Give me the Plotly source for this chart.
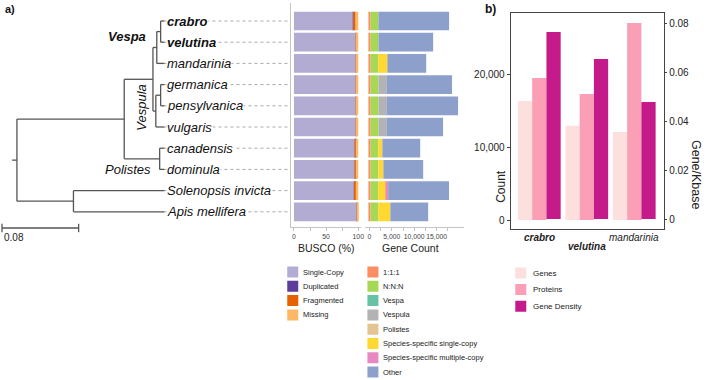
import plotly.graph_objects as go

# ---------------- data ----------------
species = ["crabro", "velutina", "mandarinia", "germanica", "pensylvanica",
           "vulgaris", "canadensis", "dominula", "Solenopsis invicta", "Apis mellifera"]
highlight = ["crabro", "velutina"]

# phylogeny: (label, branch length, children)
tree = ("", 0.005, [
    ("", 0.112, [
        ("", 0.030, [
            ("Vespa", 0.004, [
                ("", 0.004, [("crabro", 0.004, []), ("velutina", 0.004, [])]),
                ("mandarinia", 0.008, []),
            ]),
            ("Vespula", 0.003, [
                ("", 0.005, [("germanica", 0.004, []), ("pensylvanica", 0.004, [])]),
                ("vulgaris", 0.009, []),
            ]),
        ]),
        ("Polistes", 0.037, [("canadensis", 0.005, []), ("dominula", 0.005, [])]),
    ]),
    ("", 0.059, [("Solenopsis invicta", 0.095, []), ("Apis mellifera", 0.095, [])]),
])
scale_bar = 0.08

# BUSCO (%)
busco_categories = ["Single-Copy", "Duplicated", "Fragmented", "Missing"]
busco_single = [92.0, 96.5, 96.5, 96.5, 96.5, 96.5, 95.8, 95.5, 93.2, 98.3]
busco_duplicated = [0.3, 0.2, 0.2, 0.2, 0.2, 0.2, 0.2, 0.2, 0.3, 0.2]
busco_fragmented = [3.7, 0.8, 0.6, 0.6, 0.6, 0.6, 1.2, 1.5, 4.0, 0.3]
busco_missing = [4.0, 2.5, 2.7, 2.7, 2.7, 2.7, 2.8, 2.8, 2.5, 1.2]

# Gene count (orthology classes)
gc_categories = ["1:1:1", "N:N:N", "Vespa", "Vespula", "Polistes",
                 "Species-specific single-copy", "Species-specific multiple-copy", "Other"]
gc_one_to_one = [250, 250, 250, 250, 250, 250, 250, 250, 250, 250]
gc_n_n_n = [1750, 1750, 1750, 1750, 1750, 1750, 1750, 1750, 1750, 1750]
gc_vespa = [0, 0, 0, 0, 0, 0, 0, 0, 0, 0]
gc_vespula = [0, 0, 0, 1780, 1780, 1780, 0, 0, 0, 0]
gc_polistes = [0, 0, 0, 0, 0, 0, 0, 0, 0, 0]
gc_ss_single = [0, 0, 2000, 0, 0, 0, 890, 1110, 1780, 2670]
gc_ss_multi = [0, 0, 0, 0, 0, 0, 0, 0, 400, 0]
gc_other = [15780, 12220, 8670, 14660, 16000, 12660, 8440, 8890, 13580, 8440]

# Panel b
b_species = ["crabro", "velutina", "mandarinia"]
b_genes = [16300, 12900, 12050]
b_proteins = [19450, 17260, 26990]
b_density = [0.0763, 0.0653, 0.0478]
count_ticks = [0, 10000, 20000]
density_ticks = [0, 0.02, 0.04, 0.06, 0.08]
density_ticktext = ["0", "0.02", "0.04", "0.06", "0.08"]

# ---------------- styles ----------------
FONT = "Liberation Sans, Arial, sans-serif"
W, H = 708, 380
busco_colors = ["#b2abd2", "#5e3c99", "#e66101", "#fdb863"]
gc_colors = ["#fc8d62", "#a6d854", "#66c2a5", "#b3b3b3", "#e5c494", "#ffd92f", "#e78ac3", "#8da0cb"]
b_colors = ["#fde0dd", "#fa9fb5", "#c51b8a"]
AXC = "#c4c4c4"


def fx(p):
    return p / W


def fy(p):
    return 1 - p / H


# ---------------- tree layout ----------------
seg_x, seg_y = [], []
clade_nodes = {}
tip_pos = {}


def place(node, parent_x):
    name, bl, children = node
    x = parent_x + bl
    if children:
        ys = [place(c, x) for c in children]
        y = (min(ys) + max(ys)) / 2
        seg_x.extend([x, x, None])
        seg_y.extend([min(ys), max(ys), None])
        if name:
            clade_nodes[name] = (x, y)
    else:
        y = species.index(name)
        tip_pos[name] = (x, y)
    seg_x.extend([parent_x, x, None])
    seg_y.extend([y, y, None])
    return y


place(tree, -tree[1])

# tree axis scale: root at px 17, 962 px per unit
TREE_PX0, TREE_PPU = 17, 962
tree_xrange = [(0 - TREE_PX0) / TREE_PPU, (292 - TREE_PX0) / TREE_PPU]
leader_end = (290 - TREE_PX0) / TREE_PPU
ROW0, ROWH = 21, 21.2
tree_yrange = [(H - ROW0) / ROWH, (0 - ROW0) / ROWH]

fig = go.Figure()

# leader lines
lx, ly = [], []
for s in species:
    x, y = tip_pos[s]
    lx.extend([x, leader_end, None])
    ly.extend([y, y, None])
fig.add_trace(go.Scatter(x=lx, y=ly, mode="lines", line=dict(color="#a0a0a0", width=0.9, dash="dot"),
                         hoverinfo="skip", showlegend=False, xaxis="x", yaxis="y"))
# tree branches
fig.add_trace(go.Scatter(x=seg_x, y=seg_y, mode="lines", line=dict(color="#555555", width=1.3),
                         hoverinfo="skip", showlegend=False, xaxis="x", yaxis="y"))
# scale bar
sb_x0 = (2 - TREE_PX0) / TREE_PPU
sb_y = (228 - ROW0) / ROWH
fig.add_trace(go.Scatter(x=[sb_x0, sb_x0 + scale_bar], y=[sb_y, sb_y], mode="lines+markers",
                         line=dict(color="#555555", width=1.3),
                         marker=dict(symbol="line-ns", size=6, line=dict(color="#555555", width=1.3)),
                         hoverinfo="skip", showlegend=False, xaxis="x", yaxis="y"))

# BUSCO stacked bars
busco_series = [busco_single, busco_duplicated, busco_fragmented, busco_missing]
base = [0.0] * len(species)
for name, vals, col in zip(busco_categories, busco_series, busco_colors):
    fig.add_trace(go.Bar(y=species, x=vals, base=list(base), orientation="h", name=name,
                         marker=dict(color=col, line=dict(width=0)), width=0.88, offset=-0.44,
                         alignmentgroup="busco", offsetgroup="busco",
                         showlegend=False, xaxis="x2", yaxis="y2"))
    base = [b + v for b, v in zip(base, vals)]

# Gene count stacked bars
gc_series = [gc_one_to_one, gc_n_n_n, gc_vespa, gc_vespula, gc_polistes,
             gc_ss_single, gc_ss_multi, gc_other]
base = [0.0] * len(species)
for name, vals, col in zip(gc_categories, gc_series, gc_colors):
    fig.add_trace(go.Bar(y=species, x=vals, base=list(base), orientation="h", name=name,
                         marker=dict(color=col, line=dict(width=0)), width=0.88, offset=-0.44,
                         alignmentgroup="gc", offsetgroup="gc",
                         showlegend=False, xaxis="x3", yaxis="y2"))
    base = [b + v for b, v in zip(base, vals)]

# Panel b bars
fig.add_trace(go.Bar(x=b_species, y=b_genes, name="Genes", marker=dict(color=b_colors[0], line=dict(width=0)),
                     offsetgroup="1", showlegend=False, xaxis="x4", yaxis="y4"))
fig.add_trace(go.Bar(x=b_species, y=b_proteins, name="Proteins", marker=dict(color=b_colors[1], line=dict(width=0)),
                     offsetgroup="2", showlegend=False, xaxis="x4", yaxis="y4"))
fig.add_trace(go.Bar(x=b_species, y=b_density, name="Gene Density", marker=dict(color=b_colors[2], line=dict(width=0)),
                     offsetgroup="3", showlegend=False, xaxis="x4", yaxis="y5"))

# custom legends (swatches)
LA_X0 = 280
la_col1_x, la_col2_x = 294 - LA_X0, 374.5 - LA_X0
la_y = list(range(len(busco_categories))) + list(range(len(gc_categories)))
la_x = [la_col1_x] * len(busco_categories) + [la_col2_x] * len(gc_categories)
fig.add_trace(go.Scatter(x=la_x, y=la_y, mode="markers",
                         marker=dict(symbol="square", size=11, color=busco_colors + gc_colors, line=dict(width=0)),
                         hoverinfo="skip", showlegend=False, xaxis="x5", yaxis="y6"))
LB_X0 = 510
b_names = ["Genes", "Proteins", "Gene Density"]
fig.add_trace(go.Scatter(x=[523 - LB_X0] * 3, y=list(range(3)), mode="markers",
                         marker=dict(symbol="square", size=11, color=b_colors, line=dict(width=0)),
                         hoverinfo="skip", showlegend=False, xaxis="x6", yaxis="y7"))

# ---------------- annotations ----------------
ann = []
for s in species:
    x, y = tip_pos[s]
    txt = f"<b><i>{s}</i></b>" if s in highlight else f"<i>{s}</i>"
    ann.append(dict(x=x, y=y, xref="x", yref="y", text=txt, showarrow=False, xanchor="left",
                    yanchor="middle", xshift=2, font=dict(size=13, color="#111", family=FONT),
                    bgcolor="white", borderpad=0))
vx, vy = clade_nodes["Vespa"]
ann.append(dict(x=vx, y=vy - 0.54, xref="x", yref="y", text="<b><i>Vespa</i></b>", showarrow=False,
                xanchor="right", yanchor="middle", xshift=-9, font=dict(size=13, color="#111", family=FONT)))
wx, wy = clade_nodes["Vespula"]
ann.append(dict(x=wx, y=wy - 0.2, xref="x", yref="y", text="<i>Vespula</i>", showarrow=False, textangle=-90,
                xanchor="center", yanchor="middle", xshift=-14, font=dict(size=13, color="#111", family=FONT)))
px_, py_ = clade_nodes["Polistes"]
ann.append(dict(x=px_, y=species.index("dominula"), xref="x", yref="y", text="<i>Polistes</i>", showarrow=False,
                xanchor="right", yanchor="middle", xshift=-7, font=dict(size=13, color="#111", family=FONT)))
ann.append(dict(x=sb_x0, y=(237 - ROW0) / ROWH, xref="x", yref="y", text=f"{scale_bar:.2f}", showarrow=False,
                xanchor="left", yanchor="middle", font=dict(size=10, color="#222", family=FONT)))

# panel labels / titles
ann.append(dict(x=fx(3), y=fy(9), xref="paper", yref="paper", text="<b>a)</b>", showarrow=False,
                xanchor="left", yanchor="middle", font=dict(size=11, color="#111", family=FONT)))
ann.append(dict(x=fx(485), y=fy(9), xref="paper", yref="paper", text="<b>b)</b>", showarrow=False,
                xanchor="left", yanchor="middle", font=dict(size=12, color="#111", family=FONT)))
ann.append(dict(x=fx(328), y=fy(248), xref="paper", yref="paper", text="BUSCO (%)", showarrow=False,
                xanchor="center", yanchor="middle", font=dict(size=10.5, color="#222", family=FONT)))
ann.append(dict(x=fx(412), y=fy(248), xref="paper", yref="paper", text="Gene Count", showarrow=False,
                xanchor="center", yanchor="middle", font=dict(size=10.5, color="#222", family=FONT)))
ann.append(dict(x=fx(503), y=fy(186), xref="paper", yref="paper", text="Count", showarrow=False, textangle=-90,
                xanchor="center", yanchor="middle", font=dict(size=12, color="#222", family=FONT)))
ann.append(dict(x=fx(699), y=fy(175), xref="paper", yref="paper", text="Gene/Kbase", showarrow=False, textangle=90,
                xanchor="center", yanchor="middle", font=dict(size=12.5, color="#222", family=FONT)))
# panel b category labels
b_label_y = [238, 246, 238]
for i, s in enumerate(b_species):
    txt = f"<b><i>{s}</i></b>" if s in highlight else f"<i>{s}</i>"
    ann.append(dict(x=s, y=fy(b_label_y[i]), xref="x4", yref="paper", text=txt, showarrow=False,
                    xanchor="center", yanchor="middle", font=dict(size=10, color="#222", family=FONT)))
# legend texts
for i, s in enumerate(busco_categories):
    ann.append(dict(x=302 - LA_X0, y=i, xref="x5", yref="y6", text=s, showarrow=False, xanchor="left",
                    yanchor="middle", font=dict(size=7.5, color="#222", family=FONT)))
for i, s in enumerate(gc_categories):
    ann.append(dict(x=383 - LA_X0, y=i, xref="x5", yref="y6", text=s, showarrow=False, xanchor="left",
                    yanchor="middle", font=dict(size=7.5, color="#222", family=FONT)))
for i, s in enumerate(b_names):
    ann.append(dict(x=533 - LB_X0, y=i, xref="x6", yref="y7", text=s, showarrow=False, xanchor="left",
                    yanchor="middle", font=dict(size=8, color="#222", family=FONT)))

hidden = dict(visible=False, showgrid=False, zeroline=False)
tickfont_small = dict(size=6.8, color="#444", family=FONT)

fig.update_layout(
    width=W, height=H, autosize=False,
    margin=dict(l=0, r=0, t=0, b=0, pad=0),
    paper_bgcolor="white", plot_bgcolor="white",
    font=dict(family=FONT, color="#222"),
    barmode="group", bargap=0.1, bargroupgap=0,
    showlegend=False,
    annotations=ann,
    xaxis=dict(domain=[0, fx(292)], range=tree_xrange, anchor="y", **hidden),
    yaxis=dict(domain=[0, 1], range=tree_yrange, anchor="x", **hidden),
    xaxis2=dict(domain=[fx(292), fx(363)], range=[-5, 105], anchor="y2", showgrid=False, zeroline=False,
                showline=True, linecolor=AXC, linewidth=1, tickvals=[0, 50, 100], ticks="outside",
                ticklen=3, tickcolor=AXC, tickfont=tickfont_small, tickangle=0,
                minor=dict(tickvals=[25, 75], ticks="outside", ticklen=3, tickcolor=AXC, showgrid=False)),
    yaxis2=dict(domain=[fy(227), fy(3)], range=[(227 - ROW0) / ROWH, (3 - ROW0) / ROWH], anchor="x2",
                type="category", categoryorder="array", categoryarray=species,
                showgrid=False, zeroline=False, showline=True, linecolor=AXC, linewidth=1,
                showticklabels=False, ticks=""),
    xaxis3=dict(domain=[fx(367), fx(466)], range=[(367 - 371) / 0.0045, (466 - 371) / 0.0045], anchor="y2",
                showgrid=False, zeroline=False, showline=True, linecolor=AXC, linewidth=1,
                tickvals=[0, 5000, 10000, 15000], tickformat=",", ticks="outside", ticklen=3,
                tickcolor=AXC, tickfont=tickfont_small, tickangle=0,
                minor=dict(tickvals=[2500, 7500, 12500, 17500], ticks="outside", ticklen=3, tickcolor=AXC,
                           showgrid=False)),
    xaxis4=dict(domain=[fx(513), fx(667)], range=[-0.6, 2.63], anchor="y4", type="category",
                categoryorder="array", categoryarray=b_species, showgrid=False, zeroline=False,
                showline=True, mirror=True, linecolor="#444", linewidth=1.3, showticklabels=False, ticks=""),
    yaxis4=dict(domain=[fy(229), fy(13)], range=[(220 - 229) / 0.0073, (220 - 13) / 0.0073], anchor="x4",
                showgrid=False, zeroline=False, showline=True, mirror=True, linecolor="#444", linewidth=1.3,
                tickvals=count_ticks, tickformat=",", ticks="outside", ticklen=3, tickcolor="#444",
                tickfont=dict(size=10, color="#222", family=FONT)),
    yaxis5=dict(overlaying="y4", side="right", anchor="x4",
                range=[(219 - 229) / 2450, (219 - 13) / 2450], showgrid=False, zeroline=False, showline=False,
                tickvals=density_ticks, ticktext=density_ticktext, ticks="outside", ticklen=2, tickcolor="#444",
                tickfont=dict(size=10, color="#222", family=FONT)),
    xaxis5=dict(domain=[fx(LA_X0), fx(520)], range=[0, 520 - LA_X0], anchor="y6", **hidden),
    yaxis6=dict(domain=[0, fy(262)], range=[(380 - 272) / 14.3, (262 - 272) / 14.3], anchor="x5", **hidden),
    xaxis6=dict(domain=[fx(LB_X0), 1], range=[0, W - LB_X0], anchor="y7", **hidden),
    yaxis7=dict(domain=[0, fy(262)], range=[(380 - 273) / 16.6, (262 - 273) / 16.6], anchor="x6", **hidden),
)

fig.write_html("out.html", config={"displayModeBar": False},
               post_script="document.body.style.margin='0px';document.body.style.overflow='hidden';")
